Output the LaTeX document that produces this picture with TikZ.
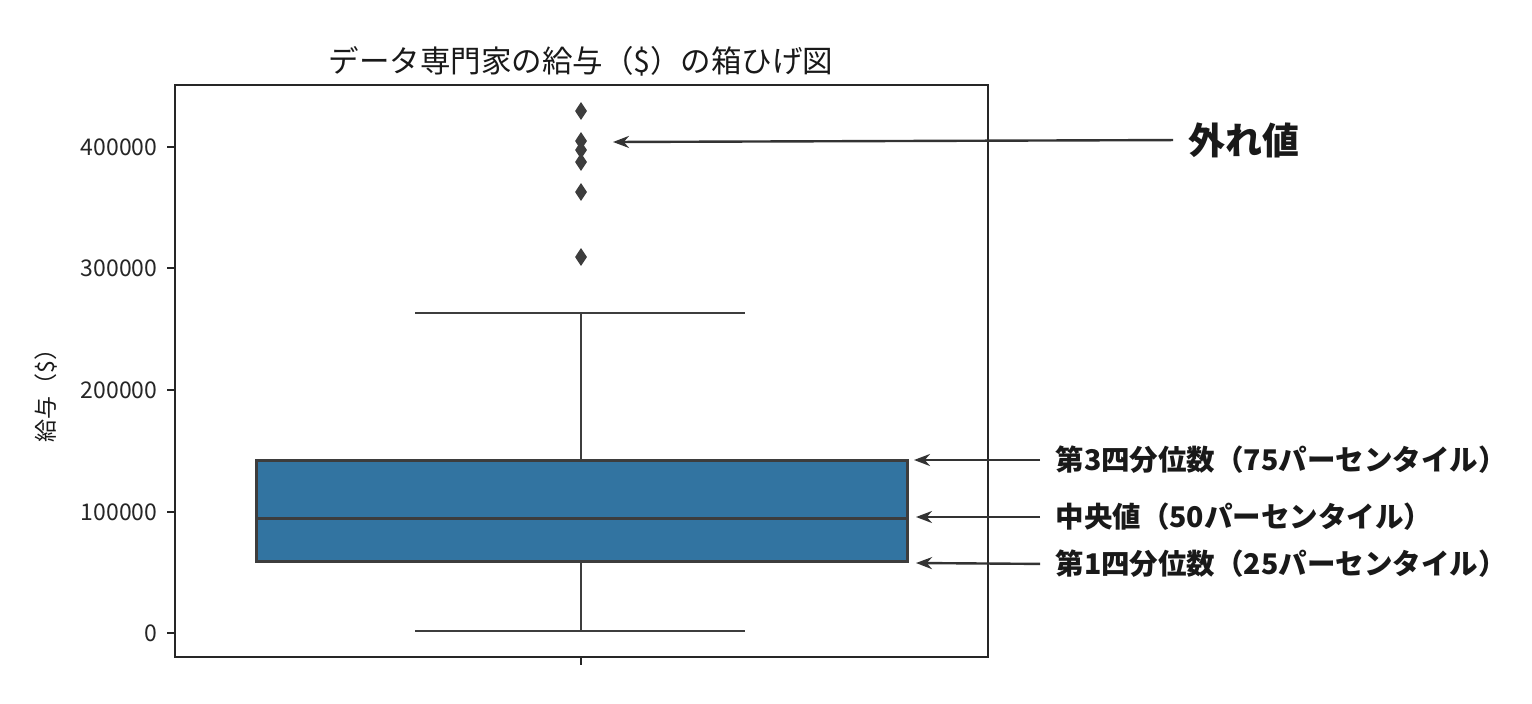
\documentclass[tikz,border=0pt]{standalone}
\usepackage{fontspec}
\setmainfont{Noto Sans CJK JP}
\usetikzlibrary{arrows.meta,shapes.geometric}
\definecolor{boxblue}{HTML}{3274A1}
\definecolor{edge}{HTML}{3D3D3D}
\begin{document}
\begin{tikzpicture}[x=1pt,y=-1pt,
  tick/.style={font=\fontsize{23}{23}\selectfont,anchor=east,text=black!85},
  lab/.style={font=\fontsize{28.5}{28.5}\selectfont\bfseries,anchor=west,text=black!90},
  arr/.style={draw=black!80,line width=2.4pt,shorten <=12pt,-{Stealth[length=16pt,width=12pt]}},
  dia/.style={diamond,fill=edge,inner sep=0pt,minimum width=12pt,minimum height=18pt}]
\useasboundingbox[fill=white] (0,0) rectangle (1532,704);
% frame
\draw[line width=1.6pt,black!85] (175,85) rectangle (988,657);
\foreach \v/\y in {0/633,100000/512,200000/390,300000/268,400000/147}{
  \draw[line width=1.6pt,black!85] (167,\y) -- (175,\y);
  \node[tick] at (161,\y) {\v};
}
\draw[line width=1.6pt,black!85] (581,657) -- (581,665);
% whiskers
\draw[line width=2.6pt,edge] (581,460) -- (581,313) (415,313) -- (745,313);
\draw[line width=2.6pt,edge] (581,561) -- (581,631) (415,631) -- (745,631);
% box
\draw[fill=boxblue,draw=edge,line width=3pt] (256,460) rectangle (907,561);
\draw[line width=3pt,edge] (256,518) -- (907,518);
% outliers
\foreach \y [count=\i] in {111,141,150,162,192,257}{ \node[dia] (o\i) at (581,\y) {}; }
% title & ylabel
\node[font=\fontsize{30.5}{30.5}\selectfont,text=black!90] (title) at (581,61) {データ専門家の給与（\$）の箱ひげ図};
\node[font=\fontsize{23}{23}\selectfont,rotate=90,text=black!90] (ylab) at (46,390) {給与（\$）};
% annotations
\node[font=\fontsize{37}{37}\selectfont\bfseries,anchor=west,text=black!90] (lo) at (1185,140) {外れ値};
\coordinate (ao) at (613,142);
\draw[arr] (lo.west) -- (ao);
\node[lab] (l3) at (1052,460) {第3四分位数（75パーセンタイル）};
\node[lab] (l2) at (1052,517) {中央値（50パーセンタイル）};
\node[lab] (l1) at (1052,564) {第1四分位数（25パーセンタイル）};
\coordinate (a3) at (914,460);
\coordinate (a2) at (916,517);
\coordinate (a1) at (916,563);
\draw[arr] (l3.west) -- (a3);
\draw[arr] (l2.west) -- (a2);
\draw[arr] (l1.west) -- (a1);
\end{tikzpicture}
\end{document}
